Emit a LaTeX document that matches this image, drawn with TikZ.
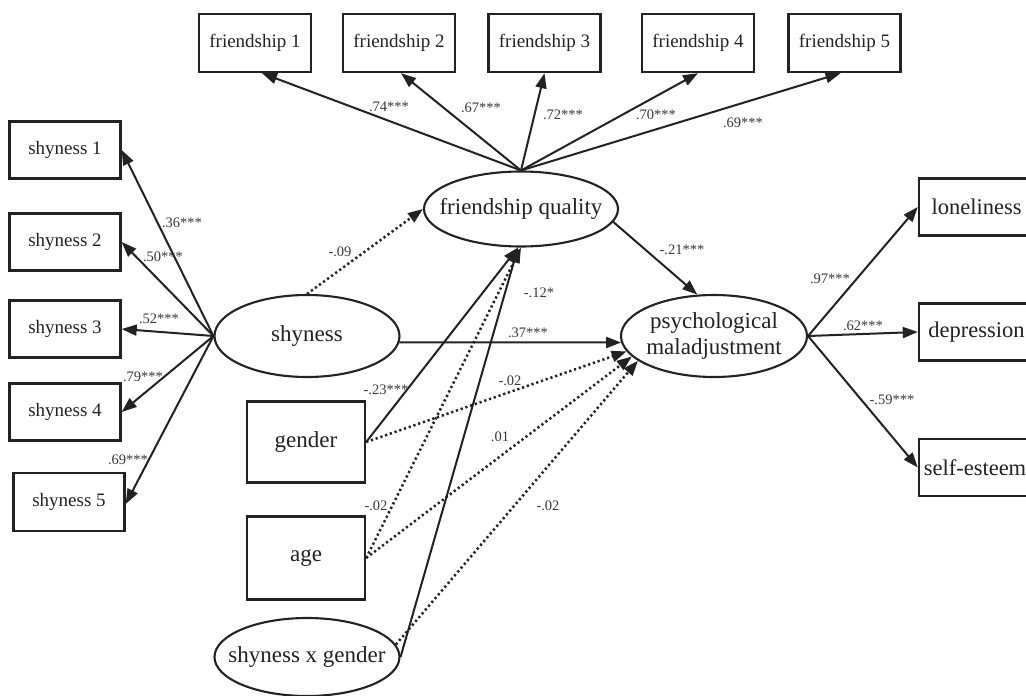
\documentclass[tikz,border=0pt]{standalone}
\usepackage{fontspec}
\setmainfont{Liberation Serif}
\usetikzlibrary{shapes.geometric,arrows.meta}
\definecolor{ink}{HTML}{222222}
\begin{document}
\begin{tikzpicture}[x=1pt,y=-1pt,
  every node/.style={text=ink},
  box/.style={draw=ink,line width=2.4pt,rectangle,inner sep=0pt,font=\fontsize{19}{22}\selectfont},
  bigbox/.style={box,font=\fontsize{22.5}{26}\selectfont},
  ell/.style={draw=ink,line width=2.1pt,ellipse,inner sep=0pt},
  elltext/.style={font=\fontsize{23}{26}\selectfont,text=ink,align=center},
  arr/.style={draw=ink,line width=2pt,-{Triangle[length=15pt,width=11pt]}},
  dot/.style={arr,line width=2.5pt,dash pattern=on 2.2pt off 2.8pt},
  coef/.style={font=\fontsize{14.5}{16}\selectfont,inner sep=0pt,text=ink!90}]
\clip (0,0) rectangle (1026,696);
\fill[white] (0,0) rectangle (1026,696);
% friendship indicators
\node[box,minimum width=112pt,minimum height=58pt] (f1) at (255,43) {friendship 1};
\node[box,minimum width=112pt,minimum height=58pt] (f2) at (399,43) {friendship 2};
\node[box,minimum width=112pt,minimum height=58pt] (f3) at (544.5,43) {friendship 3};
\node[box,minimum width=112pt,minimum height=58pt] (f4) at (698,43) {friendship 4};
\node[box,minimum width=112pt,minimum height=58pt] (f5) at (844.5,43) {friendship 5};
% shyness indicators
\node[box,minimum width=111pt,minimum height=57pt] (s1) at (65,150) {shyness 1};
\node[box,minimum width=111pt,minimum height=57pt] (s2) at (65,242) {shyness 2};
\node[box,minimum width=111pt,minimum height=57pt] (s3) at (65,329) {shyness 3};
\node[box,minimum width=111pt,minimum height=57pt] (s4) at (65,412) {shyness 4};
\node[box,minimum width=111pt,minimum height=58pt] (s5) at (69,502) {shyness 5};
% outcome indicators
\node[bigbox,minimum width=115pt,minimum height=57pt] (lon) at (976.5,207) {loneliness};
\node[bigbox,minimum width=115pt,minimum height=57pt] (dep) at (976.5,332) {depression};
\node[bigbox,minimum width=115pt,minimum height=57pt] (se) at (976.5,467.5) {\hspace*{-3pt}self-esteem};
% covariates
\node[bigbox,font=\fontsize{23}{26}\selectfont,minimum width=118pt,minimum height=81pt] (gen) at (306,442) {gender};
\node[bigbox,font=\fontsize{23}{26}\selectfont,minimum width=118pt,minimum height=83pt] (age) at (306,558) {age};
% latent variables
\node[ell,minimum width=194pt,minimum height=75pt,label={[elltext]center:friendship quality}] (fq) at (521,209) {};
\node[ell,minimum width=186pt,minimum height=82pt,label={[elltext]center:{psychological\\maladjustment}}] (psy) at (714,336) {};
\node[ell,minimum width=185pt,minimum height=82pt,label={[elltext]center:shyness}] (shy) at (307,336) {};
\node[ell,minimum width=185pt,minimum height=78pt,label={[elltext]center:shyness x gender}] (sxg) at (307,657) {};
% friendship loadings
\draw[arr] (fq.north) -- ([xshift=7pt]f1.south);
\draw[arr] (fq.north) -- ([xshift=2pt]f2.south);
\draw[arr] (fq.north) -- (f3.south);
\draw[arr] (fq.north) -- (f4.south);
\draw[arr] (fq.north) -- ([xshift=-4pt]f5.south);
% shyness loadings
\draw[arr] (shy.west) -- (s1.east);
\draw[arr] (shy.west) -- (s2.east);
\draw[arr] (shy.west) -- (s3.east);
\draw[arr] (shy.west) -- (s4.east);
\draw[arr] (shy.west) -- ([yshift=-2pt]s5.east);
% outcome loadings
\draw[arr] (psy.east) -- (lon.west);
\draw[arr] (psy.east) -- (dep.west);
\draw[arr] (psy.east) -- (se.west);
% structural paths
\draw[dot] (shy.north) -- (fq.west);
\draw[arr] (fq.-8) -- (psy.112);
\draw[arr] (shy.-4) -- (psy.184);
\draw[arr] (gen.east) -- ([xshift=-3pt]fq.south);
\draw[dot] (age.east) -- (fq.south);
\draw[arr] (sxg.east) -- ([xshift=-3pt]fq.south);
\draw[dot] (gen.east) -- (psy.190);
\draw[dot] (age.east) -- (psy.194);
\draw[dot] (sxg.8) -- (psy.198);
% coefficients
\node[coef] (c1) at (389,107) {.74***};
\node[coef] (c2) at (481,108) {.67***};
\node[coef] (c3) at (563,115) {.72***};
\node[coef] (c4) at (656,115) {.70***};
\node[coef] (c5) at (743,123) {.69***};
\node[coef] (c6) at (182,223) {.36***};
\node[coef] (c7) at (163,257) {.50***};
\node[coef] (c8) at (159,319) {.52***};
\node[coef] (c9) at (143,377) {.79***};
\node[coef] (c10) at (128,460) {.69***};
\node[coef] (c11) at (340,252) {-.09};
\node[coef] (c12) at (682,250) {-.21***};
\node[coef] (c13) at (539,293) {-.12*};
\node[coef] (c14) at (528,333) {.37***};
\node[coef] (c15) at (386,390) {-.23***};
\node[coef] (c16) at (510,381) {-.02};
\node[coef] (c17) at (376,506) {-.02};
\node[coef] (c18) at (500,437) {.01};
\node[coef] (c19) at (548,506) {-.02};
\node[coef] (c20) at (830,279) {.97***};
\node[coef] (c21) at (863,326) {.62***};
\node[coef] (c22) at (892,400) {-.59***};
\end{tikzpicture}
\end{document}
